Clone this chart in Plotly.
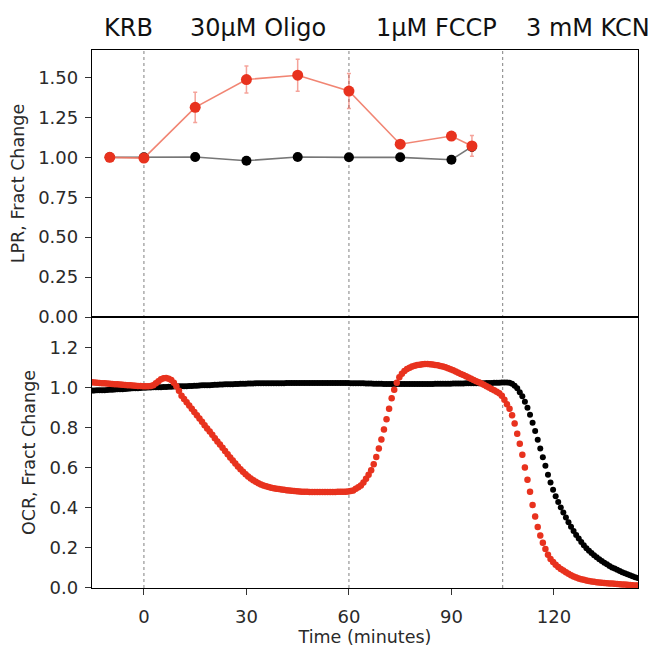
import plotly.graph_objects as go

# ---------------- LPR (top panel) ----------------
lpr_time = [-10, 0, 15, 30, 45, 60, 75, 90, 96]
lpr_red = [1.000, 0.995, 1.313, 1.487, 1.514, 1.415, 1.082, 1.133, 1.071]
lpr_red_err = [0.010, 0.010, 0.095, 0.085, 0.100, 0.110, 0.020, 0.025, 0.065]
lpr_black = [1.000, 1.000, 1.002, 0.979, 1.002, 1.000, 1.000, 0.985, 1.067]
lpr_black_err = [0.005, 0.010, 0.025, 0.010, 0.010, 0.010, 0.010, 0.010, 0.030]

# ---------------- OCR (bottom panel) ----------------
OCR_START = -16.0
OCR_STEP = 0.75
ocr_red = [
    1.028, 1.027, 1.026, 1.025,
    1.024, 1.023, 1.022, 1.021,
    1.020, 1.019, 1.018, 1.017,
    1.016, 1.015, 1.014, 1.013,
    1.012, 1.011, 1.010, 1.009,
    1.009, 1.008, 1.008, 1.008,
    1.009, 1.013, 1.022, 1.033,
    1.042, 1.047, 1.048, 1.045,
    1.038, 1.025, 1.008, 0.985,
    0.960, 0.944, 0.928, 0.911,
    0.895, 0.879, 0.862, 0.846,
    0.830, 0.813, 0.797, 0.781,
    0.765, 0.748, 0.732, 0.716,
    0.700, 0.684, 0.668, 0.652,
    0.637, 0.622, 0.607, 0.593,
    0.580, 0.568, 0.557, 0.547,
    0.538, 0.530, 0.523, 0.517,
    0.512, 0.508, 0.504, 0.501,
    0.498, 0.496, 0.494, 0.492,
    0.490, 0.488, 0.487, 0.485,
    0.484, 0.483, 0.482, 0.481,
    0.480, 0.480, 0.479, 0.479,
    0.479, 0.479, 0.479, 0.479,
    0.479, 0.479, 0.479, 0.479,
    0.479, 0.480, 0.480, 0.480,
    0.481, 0.482, 0.484, 0.487,
    0.495, 0.503, 0.512, 0.527,
    0.545, 0.565, 0.588, 0.618,
    0.654, 0.696, 0.742, 0.792,
    0.843, 0.895, 0.948, 0.990,
    1.025, 1.052, 1.070, 1.084,
    1.093, 1.100, 1.106, 1.110,
    1.113, 1.115, 1.117, 1.118,
    1.118, 1.117, 1.116, 1.114,
    1.112, 1.109, 1.106, 1.102,
    1.097, 1.092, 1.087, 1.081,
    1.075, 1.069, 1.063, 1.057,
    1.051, 1.045, 1.039, 1.033,
    1.027, 1.021, 1.015, 1.008,
    1.001, 0.994, 0.987, 0.980,
    0.972, 0.960, 0.940, 0.918,
    0.895, 0.862, 0.822, 0.770,
    0.720, 0.665, 0.602, 0.540,
    0.480, 0.414, 0.357, 0.305,
    0.262, 0.226, 0.195, 0.166,
    0.145, 0.130, 0.116, 0.105,
    0.095, 0.087, 0.079, 0.071,
    0.064, 0.058, 0.053, 0.048,
    0.044, 0.041, 0.038, 0.035,
    0.033, 0.031, 0.029, 0.027,
    0.026, 0.025, 0.024, 0.023,
    0.022, 0.021, 0.020, 0.019,
    0.018, 0.017, 0.016, 0.015,
    0.014, 0.013, 0.013,
]
ocr_black = [
    0.985, 0.986, 0.986, 0.987,
    0.987, 0.988, 0.988, 0.989,
    0.990, 0.990, 0.991, 0.992,
    0.992, 0.993, 0.994, 0.995,
    0.996, 0.997, 0.998, 0.998,
    0.999, 1.000, 1.000, 1.001,
    1.001, 1.002, 1.002, 1.003,
    1.003, 1.004, 1.004, 1.005,
    1.005, 1.006, 1.006, 1.007,
    1.007, 1.008, 1.008, 1.009,
    1.009, 1.010, 1.010, 1.011,
    1.012, 1.012, 1.013, 1.013,
    1.014, 1.015, 1.015, 1.016,
    1.016, 1.017, 1.017, 1.018,
    1.018, 1.019, 1.019, 1.020,
    1.020, 1.020, 1.021, 1.021,
    1.021, 1.022, 1.022, 1.022,
    1.022, 1.022, 1.023, 1.023,
    1.023, 1.023, 1.023, 1.023,
    1.023, 1.024, 1.024, 1.024,
    1.024, 1.024, 1.024, 1.024,
    1.024, 1.024, 1.024, 1.024,
    1.024, 1.024, 1.024, 1.024,
    1.024, 1.024, 1.024, 1.024,
    1.024, 1.024, 1.024, 1.024,
    1.024, 1.024, 1.023, 1.023,
    1.023, 1.022, 1.022, 1.022,
    1.021, 1.021, 1.021, 1.020,
    1.020, 1.020, 1.020, 1.019,
    1.019, 1.019, 1.019, 1.019,
    1.019, 1.019, 1.019, 1.019,
    1.019, 1.019, 1.019, 1.019,
    1.019, 1.019, 1.019, 1.019,
    1.019, 1.019, 1.019, 1.020,
    1.020, 1.020, 1.020, 1.020,
    1.020, 1.020, 1.021, 1.021,
    1.021, 1.021, 1.021, 1.022,
    1.022, 1.022, 1.022, 1.023,
    1.023, 1.023, 1.023, 1.024,
    1.024, 1.024, 1.025, 1.025,
    1.025, 1.026, 1.026, 1.026,
    1.025, 1.020, 1.010, 0.997,
    0.978, 0.957, 0.930, 0.900,
    0.865, 0.825, 0.784, 0.740,
    0.697, 0.653, 0.610, 0.566,
    0.527, 0.491, 0.458, 0.429,
    0.402, 0.377, 0.352, 0.328,
    0.306, 0.285, 0.265, 0.247,
    0.230, 0.214, 0.199, 0.186,
    0.175, 0.164, 0.154, 0.144,
    0.135, 0.126, 0.118, 0.110,
    0.103, 0.097, 0.091, 0.085,
    0.079, 0.074, 0.069, 0.064,
    0.059, 0.054, 0.050,
]
ocr_time = [OCR_START + OCR_STEP * i for i in range(len(ocr_red))]
OCR_RED_SEM = 0.012

# treatment additions (minutes) and header labels
event_times = [0, 60, 105]
header_labels = ["KRB", "30μM Oligo", "1μM FCCP", "3 mM KCN"]
header_pos = [-4.6, 33.5, 85.6, 130.0]

x_ticks = [0, 30, 60, 90, 120]
lpr_ticks = [0.0, 0.25, 0.5, 0.75, 1.0, 1.25, 1.5]
ocr_ticks = [0.0, 0.2, 0.4, 0.6, 0.8, 1.0, 1.2]

RED = "#e8321e"
RED_LIGHT = "rgba(232,50,30,0.45)"
BLACK = "#000000"
GREY_LINE = "rgba(60,60,60,0.7)"
FONT = "DejaVu Sans"
TXT = "#2a2a2a"

fig = go.Figure()

# top panel
fig.add_trace(go.Scatter(
    x=lpr_time, y=lpr_black, mode="lines+markers", xaxis="x2", yaxis="y2",
    line=dict(color=GREY_LINE, width=1.6),
    marker=dict(color=BLACK, size=10),
    error_y=dict(type="data", array=lpr_black_err, color="rgba(60,60,60,0.6)",
                 thickness=1.2, width=2),
    showlegend=False))
fig.add_trace(go.Scatter(
    x=lpr_time, y=lpr_red, mode="lines+markers", xaxis="x2", yaxis="y2",
    line=dict(color="rgba(240,120,100,0.9)", width=1.6),
    marker=dict(color=RED, size=11),
    error_y=dict(type="data", array=lpr_red_err, color=RED_LIGHT,
                 thickness=1.5, width=2),
    showlegend=False))

# bottom panel
fig.add_trace(go.Scatter(
    x=ocr_time, y=ocr_black, mode="markers", xaxis="x", yaxis="y",
    marker=dict(color=BLACK, size=6),
    showlegend=False))
fig.add_trace(go.Scatter(
    x=ocr_time, y=ocr_red, mode="markers", xaxis="x", yaxis="y",
    marker=dict(color=RED, size=6.5),
    error_y=dict(type="constant", value=OCR_RED_SEM, color=RED_LIGHT,
                 thickness=1, width=1.5),
    showlegend=False))

XR = [-15.2, 144.6]
FIG_H = 653
TOP, BOTTOM = 50, 598
split = 276 / (BOTTOM - TOP)

axis_common = dict(showline=True, linecolor="black", linewidth=1.3, mirror=True,
                   showgrid=False, zeroline=False, ticklen=6,
                   tickwidth=1.2, tickcolor="#333",
                   tickfont=dict(family=FONT, size=18, color=TXT))

fig.update_layout(
    width=652, height=FIG_H,
    margin=dict(l=92, r=14, t=TOP, b=FIG_H - BOTTOM),
    paper_bgcolor="white", plot_bgcolor="white",
    xaxis=dict(range=XR, domain=[0, 1], anchor="y", tickvals=x_ticks, ticks="outside",
               ticklabelstandoff=6,
               title=dict(text="Time (minutes)", font=dict(family=FONT, size=17.5, color=TXT),
                          standoff=2),
               **axis_common),
    xaxis2=dict(range=XR, domain=[0, 1], anchor="y2", matches="x", ticks="",
                showticklabels=False, **axis_common),
    yaxis=dict(range=[0, 1.353], domain=[0, split], anchor="x", tickvals=ocr_ticks,
               tickformat=".1f", ticks="outside", ticklabelstandoff=3,
               title=dict(text="OCR, Fract Change", font=dict(family=FONT, size=17.5, color=TXT),
                          standoff=9),
               **axis_common),
    yaxis2=dict(range=[0, 1.672], domain=[split, 1], anchor="x2", tickvals=lpr_ticks,
                tickformat=".2f", ticks="outside", ticklabelstandoff=3,
                title=dict(text="LPR, Fract Change", font=dict(family=FONT, size=17.5, color=TXT),
                           standoff=9),
                **axis_common),
)

for t in event_times:
    fig.add_shape(type="line", xref="x", yref="paper", x0=t, x1=t, y0=0, y1=1,
                  line=dict(color="#808080", width=1, dash="dot"), layer="below")

for lab, pos in zip(header_labels, header_pos):
    fig.add_annotation(text=lab, x=pos, xref="x", y=1 + 22 / (BOTTOM - TOP), yref="paper",
                       xanchor="center", yanchor="middle", showarrow=False,
                       font=dict(family=FONT, size=24, color="#111"))

# remove the browser's default page margin so the figure starts at the window corner
PAGE_CSS_JS = (
    "var s=document.createElement('style');"
    "s.textContent='html,body{margin:0;padding:0;overflow:hidden;}';"
    "document.head.appendChild(s);"
)
fig.write_html("out.html", config={"displayModeBar": False}, post_script=PAGE_CSS_JS)
